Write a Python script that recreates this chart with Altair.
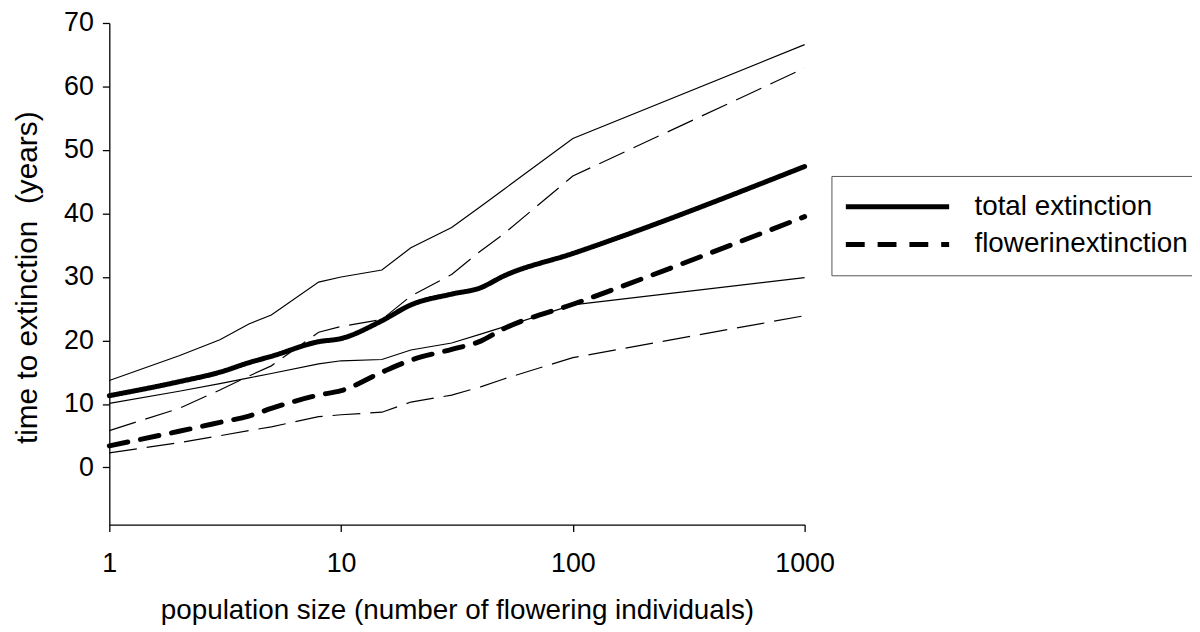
import altair as alt
import pandas as pd

x_vals = [1, 2, 3, 4, 5, 8, 10, 15, 20, 30, 40, 50, 100, 1000]
total_mean = [11.3, 13.5, 15.0, 16.5, 17.5, 19.8, 20.3, 23.1, 25.6, 27.3, 28.3, 30.1, 33.7, 47.4]
total_upper = [13.7, 17.6, 20.1, 22.6, 24.0, 29.2, 30.0, 31.1, 34.6, 37.8, 41.1, 43.7, 51.8, 66.6]
total_lower = [10.1, 12.0, 13.2, 14.1, 14.8, 16.3, 16.8, 17.0, 18.5, 19.6, 21.0, 22.1, 25.6, 29.9]
flower_mean = [3.4, 5.7, 7.1, 8.1, 9.3, 11.4, 12.1, 15.0, 16.9, 18.6, 19.9, 21.8, 25.7, 39.5]
flower_upper = [5.8, 9.3, 12.2, 14.4, 16.0, 21.3, 22.2, 23.3, 27.0, 30.4, 34.1, 36.7, 45.9, 62.9]
flower_lower = [2.3, 3.9, 5.0, 5.8, 6.4, 8.0, 8.3, 8.7, 10.3, 11.4, 12.7, 13.9, 17.3, 23.9]

series_names = ["total extinction", "flowerinextinction"]
x_ticks = [1, 10, 100, 1000]
y_ticks = [0, 10, 20, 30, 40, 50, 60, 70]

df_mean = pd.DataFrame(
    [{"x": x, "value": v, "series": series_names[0]} for x, v in zip(x_vals, total_mean)]
    + [{"x": x, "value": v, "series": series_names[1]} for x, v in zip(x_vals, flower_mean)]
)
df_tb = pd.DataFrame(
    [{"x": x, "value": v, "bound": "upper"} for x, v in zip(x_vals, total_upper)]
    + [{"x": x, "value": v, "bound": "lower"} for x, v in zip(x_vals, total_lower)]
)
df_fb = pd.DataFrame(
    [{"x": x, "value": v, "bound": "upper"} for x, v in zip(x_vals, flower_upper)]
    + [{"x": x, "value": v, "bound": "lower"} for x, v in zip(x_vals, flower_lower)]
)

FONT = "Liberation Sans"

x_enc = alt.X(
    "x:Q",
    scale=alt.Scale(type="log", domain=[1, 1000], nice=False),
    axis=alt.Axis(
        values=x_ticks,
        format="d",
        title="population size (number of flowering individuals)",
        titleFontSize=28,
        labelPadding=19,
        titlePadding=21,
        labelFlush=False,
    ),
)
y_enc = alt.Y(
    "value:Q",
    scale=alt.Scale(domain=[-9, 70], nice=False, zero=False),
    axis=alt.Axis(
        values=y_ticks,
        title="time to extinction\u00a0 (years)",
        titleFontSize=30,
        titleBaseline="middle",
        titleX=-82,
        titleY=256,
        labelPadding=9,
        labelFlush=False,
    ),
)

thin_total = alt.Chart(df_tb).mark_line(color="black", strokeWidth=1.2).encode(
    x=x_enc, y=y_enc, detail="bound:N"
)
thin_flower = alt.Chart(df_fb).mark_line(
    color="black", strokeWidth=1.2, strokeDash=[28, 10]
).encode(x=x_enc, y=y_enc, detail="bound:N")

means = alt.Chart(df_mean).mark_line(
    color="black", strokeWidth=5, strokeCap="round", interpolate="monotone"
).encode(
    x=x_enc,
    y=y_enc,
    strokeDash=alt.StrokeDash(
        "series:N",
        scale=alt.Scale(domain=series_names, range=[[1, 0], [19, 13]]),
        legend=alt.Legend(
            title=None,
            orient="none",
            legendX=727,
            legendY=154,
            symbolType="stroke",
            symbolSize=10816,
            symbolStrokeWidth=5,
            symbolStrokeColor="black",
            labelFont=FONT,
            labelFontSize=28,
            labelColor="black",
            labelOffset=23,
            labelLimit=400,
            padding=12,
            clipHeight=38,
            rowPadding=-4,
            strokeColor="#555555",
            fillColor="white",
        ),
    ),
)

chart = (
    alt.layer(thin_total, thin_flower, means)
    .properties(
        width=700,
        height=505,
        autosize=alt.AutoSizeParams(type="none"),
        padding={"left": 102, "top": 13, "right": 390, "bottom": 100},
        background="white",
    )
    .configure_view(stroke=None)
    .configure_axis(
        grid=False,
        domainColor="black",
        domainWidth=1.3,
        tickColor="black",
        tickWidth=1.3,
        tickSize=7,
        labelFont=FONT,
        labelFontSize=27,
        labelColor="black",
        titleFont=FONT,
        titleFontWeight="normal",
        titleColor="black",
    )
)

chart.save("out.html", embed_options={"renderer": "svg", "actions": False})
